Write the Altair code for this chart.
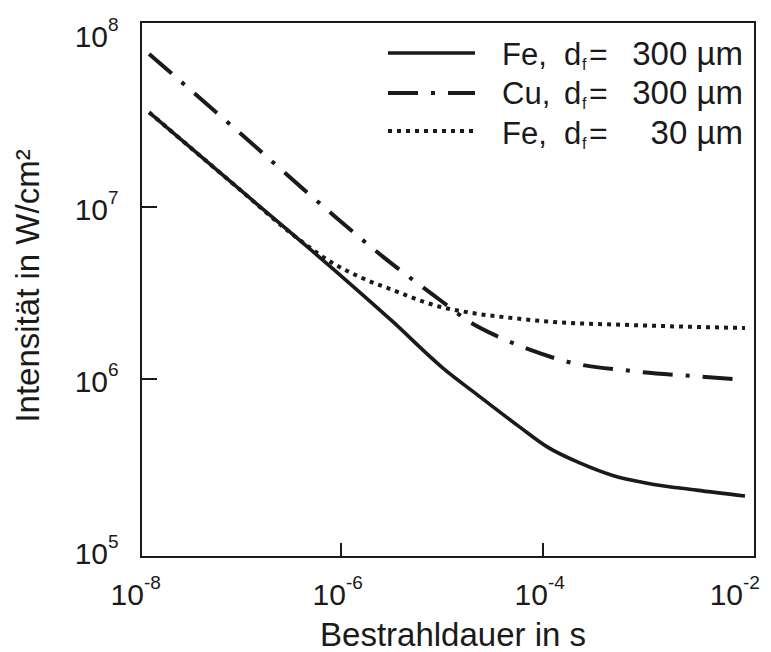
import altair as alt
import pandas as pd

# ---- data ----
t_fe300 = [1.26e-8, 1e-7, 1e-6, 3.16e-6, 1e-5, 2.4e-5, 5.9e-5, 1.1e-4, 2.34e-4, 4.9e-4, 1.07e-3, 3.3e-3, 1e-2]
I_fe300 = [3.55e7, 1.26e7, 3.98e6, 2.19e6, 1.17e6, 7.85e5, 5.25e5, 4.03e5, 3.24e5, 2.75e5, 2.48e5, 2.26e5, 2.09e5]

t_cu300 = [1.26e-8, 1e-7, 7.94e-7, 2.75e-6, 9.55e-6, 1.9e-5, 3.47e-5, 7.4e-5, 1.74e-4, 7.94e-4, 3.39e-3, 1e-2]
I_cu300 = [7.76e7, 2.69e7, 9.23e6, 5.01e6, 2.88e6, 2.14e6, 1.78e6, 1.48e6, 1.26e6, 1.11e6, 1.035e6, 9.9e5]

t_fe30 = [1.26e-8, 1e-7, 3.16e-7, 7.94e-7, 1.58e-6, 3.16e-6, 9.55e-6, 1.9e-5, 5.0e-5, 1.1e-4, 7.24e-4, 1e-2]
I_fe30 = [3.55e7, 1.26e7, 7.08e6, 4.79e6, 3.89e6, 3.31e6, 2.63e6, 2.43e6, 2.26e6, 2.16e6, 2.06e6, 1.98e6]

x_label_vals = [1e-8, 1e-6, 1e-4]
x_label_exps = ["-8", "-6", "-4"]
x_last_val = [1e-2]
x_last_exp = ["-2"]
x_tick_vals = [1e-6, 1e-4]
y_label_vals = [1e5, 1e6, 1e7, 1e8]
y_label_exps = ["5", "6", "7", "8"]
y_tick_vals = [1e6, 1e7]

legend_materials = ["Fe,", "Cu,", "Fe,"]
legend_sizes = ["300 µm", "300 µm", "30 µm"]

x_title = "Bestrahldauer in s"
y_title = "Intensität in W/cm²"

# ---- layout / style ----
W, H = 614, 535
FONT = "Liberation Sans"
INK = "#1a1a1a"
DASHDOT = [30, 13, 4, 13]
DOTS = [4, 5]
dashes = [None, DASHDOT, DOTS]

xs = alt.Scale(type="log", domain=[1.047e-8, 1.256e-2], nice=False)
ys = alt.Scale(type="log", domain=[9.23e4, 1.19e8], nice=False)


def curve(t, I, dash):
    df = pd.DataFrame({"t": t, "I": I})
    kw = dict(color=INK, strokeWidth=3.6, interpolate="monotone")
    if dash is not None:
        kw["strokeDash"] = dash
        kw["strokeWidth"] = 4
    return alt.Chart(df).mark_line(**kw).encode(
        x=alt.X("t:Q", scale=xs, axis=None),
        y=alt.Y("I:Q", scale=ys, axis=None),
    )


layers = [
    curve(t_fe300, I_fe300, None),
    curve(t_cu300, I_cu300, DASHDOT),
    curve(t_fe30, I_fe30, DOTS),
]

# inward ticks
layers.append(
    alt.Chart(pd.DataFrame({"v": y_tick_vals})).mark_rule(color=INK, strokeWidth=2).encode(
        y=alt.Y("v:Q", scale=ys, axis=None), x=alt.value(0), x2=alt.value(16)
    )
)
layers.append(
    alt.Chart(pd.DataFrame({"v": x_tick_vals})).mark_rule(color=INK, strokeWidth=2).encode(
        x=alt.X("v:Q", scale=xs, axis=None), y=alt.value(H), y2=alt.value(H - 14)
    )
)

# y tick labels
ydf = pd.DataFrame({"v": y_label_vals, "b": ["10"] * 4, "e": y_label_exps})
layers.append(
    alt.Chart(ydf).mark_text(font=FONT, fontSize=30, color=INK, align="right", baseline="alphabetic", dy=12.5).encode(
        y=alt.Y("v:Q", scale=ys, axis=None), x=alt.value(-33), text="b:N"
    )
)
layers.append(
    alt.Chart(ydf).mark_text(font=FONT, fontSize=19, color=INK, align="left", baseline="alphabetic", dy=-3.5).encode(
        y=alt.Y("v:Q", scale=ys, axis=None), x=alt.value(-33), text="e:N"
    )
)


# x tick labels
def xlabels(vals, exps, off):
    xdf = pd.DataFrame({"v": vals, "b": ["10"] * len(vals), "e": exps})
    base = alt.Chart(xdf).mark_text(font=FONT, fontSize=30, color=INK, align="right", baseline="alphabetic", dx=off).encode(
        x=alt.X("v:Q", scale=xs, axis=None), y=alt.value(583), text="b:N"
    )
    sup = alt.Chart(xdf).mark_text(font=FONT, fontSize=19, color=INK, align="left", baseline="alphabetic", dx=off).encode(
        x=alt.X("v:Q", scale=xs, axis=None), y=alt.value(567), text="e:N"
    )
    return [base, sup]


layers += xlabels(x_label_vals, x_label_exps, 5)
layers += xlabels(x_last_val, x_last_exp, -2)

one = pd.DataFrame({"k": [0]})


def label(txt, x, y, size=30, align="left", angle=0, baseline="alphabetic"):
    kw = dict(font=FONT, fontSize=size, color=INK, align=align, baseline=baseline)
    if angle:
        kw["angle"] = angle
    return alt.Chart(one).mark_text(**kw).encode(
        x=alt.value(x), y=alt.value(y), text=alt.value(txt)
    )


# axis titles
layers.append(label(x_title, 312, 624, size=33, align="center"))
layers.append(label(y_title, -112, 264, size=33, align="center", angle=270, baseline="middle"))

# legend
line_ys = [31, 71, 109]
text_ys = [43, 82, 122]
for mat, size, dash, ly, ty in zip(legend_materials, legend_sizes, dashes, line_ys, text_ys):
    kw = dict(color=INK, strokeWidth=3.6)
    if dash is not None:
        kw["strokeDash"] = dash
        kw["strokeWidth"] = 4
    layers.append(
        alt.Chart(one).mark_rule(**kw).encode(
            x=alt.value(247), x2=alt.value(334), y=alt.value(ly)
        )
    )
    layers.append(label(mat, 361, ty, size=31))
    layers.append(label("d", 423, ty, size=31))
    layers.append(label("f", 441, ty + 5, size=16))
    layers.append(label("=", 448, ty, size=32))
    layers.append(label(size, 602, ty, size=33, align="right"))

chart = (
    alt.layer(*layers)
    .properties(
        width=W,
        height=H,
        autosize=alt.AutoSizeParams(type="none"),
        padding={"left": 133, "top": 14, "right": 8, "bottom": 91},
        background="white",
    )
    .configure_view(stroke=INK, strokeWidth=2)
)

chart.save("out.html", embed_options={"renderer": "svg", "actions": False})
